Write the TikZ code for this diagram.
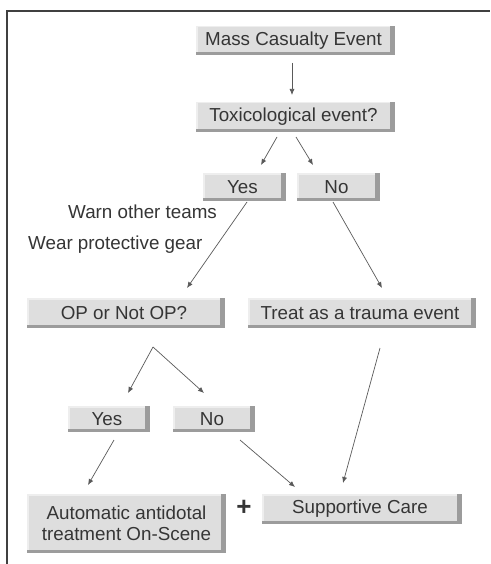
\documentclass[tikz,border=0pt]{standalone}
\usepackage{fontspec}
\setmainfont{Liberation Sans}
\usetikzlibrary{arrows.meta}
\definecolor{boxfill}{HTML}{DEDEDE}
\definecolor{boxshade}{HTML}{9C9C9C}
\definecolor{boxlight}{HTML}{EEEEEE}
\definecolor{txt}{HTML}{353535}
\definecolor{arr}{HTML}{5A5A5A}
\definecolor{frame}{HTML}{404040}
\tikzset{
  bbox/.style={rectangle, fill=boxfill, inner sep=0pt, text=txt, align=center,
    font=\fontsize{18.8}{21.5}\selectfont,
    path picture={
      \fill[boxlight] (path picture bounding box.north west) rectangle ([yshift=-1.5pt]path picture bounding box.north east);
      \fill[boxlight] (path picture bounding box.north west) rectangle ([xshift=1.5pt]path picture bounding box.south west);
      \fill[boxshade] ([xshift=-5pt]path picture bounding box.north east) rectangle (path picture bounding box.south east);
      \fill[boxshade] (path picture bounding box.south west) rectangle ([yshift=3pt]path picture bounding box.south east);
    }},
  lbl/.style={text=txt, font=\fontsize{18.8}{21.5}\selectfont, inner sep=0pt, anchor=west},
  conn/.style={draw=arr, line width=0.7pt, -{Latex[length=6pt,width=5pt]}},
  fork/.style={draw=arr, line width=0.7pt}
}
\begin{document}
\begin{tikzpicture}[x=1pt,y=-1pt]
\useasboundingbox (0,0) rectangle (490,564);
\fill[white] (0,0) rectangle (490,564);
\draw[frame, line width=1.6pt] (7,564) -- (7,11) -- (490,11);

\node[bbox, minimum width=199pt, minimum height=29pt] (mce) at (295.5,40.5) {\hspace*{-4pt}Mass Casualty Event};
\node[bbox, minimum width=199pt, minimum height=30pt] (tox) at (295.5,117) {\hspace*{-4pt}Toxicological event?};
\node[bbox, minimum width=83pt, minimum height=28pt] (yes1) at (244.5,187) {\hspace*{-4pt}Yes};
\node[bbox, minimum width=83pt, minimum height=28pt] (no1) at (338.5,187) {\hspace*{-4pt}No};
\node[bbox, minimum width=198pt, minimum height=30pt] (op) at (126,313) {\hspace*{-4pt}OP or Not OP?};
\node[bbox, minimum width=228pt, minimum height=30pt] (trauma) at (362,313) {\hspace*{-4pt}Treat as a trauma event};
\node[bbox, minimum width=82pt, minimum height=26pt] (yes2) at (109,419) {\hspace*{-4pt}Yes};
\node[bbox, minimum width=82pt, minimum height=26pt] (no2) at (214,419) {\hspace*{-4pt}No};
\node[bbox, minimum width=199pt, minimum height=59pt] (auto) at (126.5,523.5) {Automatic antidotal\\treatment On-Scene};
\node[bbox, minimum width=200pt, minimum height=30pt] (supp) at (362,509) {\hspace*{-4pt}Supportive Care};
\node[text=txt, font=\fontsize{26}{26}\bfseries, inner sep=0pt] (plus) at (244,508) {+};

\node[lbl] (warn) at (68,212) {Warn other teams};
\node[lbl] (wear) at (28,245) {Wear protective gear};

% connector end points
\coordinate (m1) at (292,63);   \coordinate (m2) at (292,95);
\coordinate (t1) at (277,137);  \coordinate (t2) at (261,165);
\coordinate (t3) at (296,137);  \coordinate (t4) at (313,165);
\coordinate (y1) at (247,202);  \coordinate (y2) at (187,288);
\coordinate (n1) at (333,202);  \coordinate (n2) at (382,288);
\coordinate (apex) at (153,347);
\coordinate (f1) at (128,393);  \coordinate (f2) at (204,393);
\coordinate (a1) at (114,440);  \coordinate (a2) at (88,485);
\coordinate (b1) at (240,440);  \coordinate (b2) at (295,487);
\coordinate (c1) at (380,348);  \coordinate (c2) at (343,483);

\draw[conn] (m1) -- (m2);
\draw[conn] (t1) -- (t2);
\draw[conn] (t3) -- (t4);
\draw[conn] (y1) -- (y2);
\draw[conn] (n1) -- (n2);
\draw[conn] (apex) -- (f1);
\draw[conn] (apex) -- (f2);
\draw[conn] (a1) -- (a2);
\draw[conn] (b1) -- (b2);
\draw[conn] (c1) -- (c2);
\end{tikzpicture}
\end{document}
